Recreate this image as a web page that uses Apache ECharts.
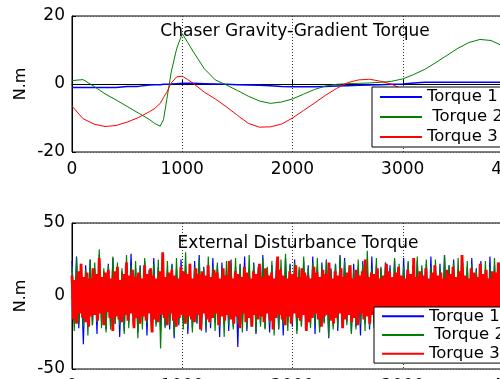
<!DOCTYPE html>
<html>
<head>
<meta charset="utf-8">
<script src="https://cdn.jsdelivr.net/npm/echarts@6/dist/echarts.min.js"></script>
<style>html,body{margin:0;padding:0;background:#fff;}#c{width:500px;height:379px;}</style>
</head>
<body>
<div id="c"></div>
<script>
// ---------- Data ----------
var seriesNames = ['Torque 1', ' Torque 2', 'Torque 3'];
var titleTop = 'Chaser Gravity-Gradient Torque';
var titleBottom = 'External Disturbance Torque';
var yName = 'N.m';

// Gravity-gradient torque (top)
var ggTime = [0,100,200,300,400,500,600,700,750,800,830,860,900,950,1000,1050,1100,1200,1300,1400,1500,1600,1700,1800,1900,2000,2100,2200,2300,2400,2500,2600,2700,2800,2900,3000,3100,3200,3300,3400,3500,3600,3700,3800,3900,4000];
var ggTorque1 = [-1.0,-1.0,-1.0,-1.0,-1.0,-0.7,-0.7,-0.3,-0.25,-0.2,-0.1,-0.05,0.0,0.1,0.2,0.2,0.2,0.1,0.0,-0.1,-0.2,-0.3,-0.4,-0.5,-0.7,-0.8,-0.8,-0.8,-0.7,-0.6,-0.5,-0.4,-0.3,-0.2,-0.1,0.0,0.3,0.5,0.5,0.5,0.5,0.5,0.5,0.5,0.5,0.2];
var ggTorque2 = [1.0,1.3,-0.7,-2.9,-4.7,-6.6,-8.5,-10.4,-11.6,-12.4,-10.5,-4.5,3.5,10.5,14.8,12.2,9.5,4.5,1.2,-0.3,-1.9,-3.6,-5.0,-5.7,-5.3,-4.4,-3.0,-1.6,-0.6,-0.1,0.1,0.2,0.3,0.5,0.8,1.5,2.8,4.3,6.3,8.4,10.5,12.2,13.1,12.8,11.3,9.0];
var ggTorque3 = [-6.5,-10.2,-11.8,-12.5,-12.2,-11.2,-9.9,-8.2,-7.2,-5.7,-4.0,-2.4,0.3,2.1,2.3,1.3,0.2,-2.4,-4.4,-6.7,-9.2,-11.6,-12.7,-12.6,-11.8,-10.0,-7.8,-5.6,-3.3,-1.3,0.4,1.2,1.4,0.8,-0.1,-1.5,-3.2,-5.0,-7.0,-8.8,-10.2,-11.2,-11.6,-11.4,-10.8,-9.8];

// External disturbance torque (bottom), sampled over 0..4100
var edSpan = 4100;
var edTorque1 = [24,-19,27,-22,18,-33,21,-17,25,-20,19,-26,28,-18,17,-23,22,-21,26,-19,
20,-28,17,-24,23,-18,29,-20,19,-25,21,-17,24,-27,18,-22,26,-19,20,-24,
27,-21,18,-23,22,-29,19,-20,25,-18,21,-26,17,-22,24,-19,28,-23,20,-25,
19,-22,26,-18,21,-28,23,-20,18,-24,25,-21,20,-35,22,-19,27,-24,19,-21,
23,-26,20,-19,28,-22,18,-25,21,-20,24,-23,19,-27,26,-18,22,-21,25,-24,
18,-20,24,-23,21,-19,27,-26,20,-22,23,-18,25,-29,19,-21,22,-24,28,-20,
26,-18,19,-25,22,-21,20,-27,24,-19,18,-23,27,-20,21,-26,19,-22,23,-18,
21,-24,25,-20,18,-22,26,-19,23,-28,20,-21,24,-25,19,-18,22,-23,27,-21,
19,-23,22,-26,28,-20,21,-19,25,-24,18,-22,23,-27,20,-19,26,-21,19,-25,
24,-20,18,-22,27,-25,21,-19,23,-21,20,-26,25,-18,22,-24,19,-23,26,-20];
var edTorque2 = [20,-24,26,-19,22,-21,18,-27,25,-20,23,-18,32,-22,19,-25,21,-23,27,-19,
23,-20,19,-26,28,-22,21,-18,24,-29,20,-23,26,-19,18,-24,22,-21,25,-36,
19,-22,24,-20,21,-27,26,-19,18,-23,30,-21,22,-25,20,-18,25,-24,19,-22,
27,-19,20,-24,23,-21,18,-28,24,-20,22,-23,26,-19,21,-25,19,-22,28,-20,
22,-25,19,-21,26,-23,20,-19,24,-27,18,-22,25,-20,29,-24,21,-18,23,-26,
20,-21,27,-24,19,-22,23,-20,26,-25,21,-19,24,-28,18,-23,22,-21,27,-19,
24,-20,21,-26,18,-23,25,-19,22,-24,31,-21,19,-22,26,-27,20,-18,23,-25,
19,-24,26,-21,22,-19,20,-28,24,-22,18,-25,27,-20,21,-23,25,-19,20,-26,
25,-22,19,-23,28,-20,21,-24,23,-18,26,-27,20,-21,24,-19,22,-25,18,-22,
21,-19,24,-27,20,-23,26,-20,22,-25,19,-21,25,-24,29,-22,20,-19,23,-21];
var edTorque3 = [14,-16,11,-19,17,-12,22,-15,13,-18,16,-21,12,-14,19,-13,15,-17,26,-12,
13,-20,16,-11,18,-15,12,-24,17,-14,20,-16,11,-18,15,-13,23,-17,14,-12,
18,-22,13,-15,16,-19,12,-14,21,-17,15,-12,19,-25,14,-16,12,-18,17,-13,
30,-15,13,-20,16,-12,18,-17,14,-21,12,-15,20,-13,17,-19,15,-14,22,-16,
12,-18,19,-13,15,-23,17,-12,14,-16,21,-18,13,-15,18,-12,16,-20,12,-14,
19,-17,14,-13,24,-16,12,-19,17,-14,15,-22,13,-12,20,-18,16,-15,12,-21,
17,-13,15,-16,22,-14,13,-18,19,-12,14,-17,16,-23,12,-15,27,-13,18,-16,
14,-20,12,-14,17,-19,15,-12,21,-15,13,-17,19,-13,16,-24,14,-18,12,-15,
20,-12,16,-16,13,-21,18,-14,15,-13,23,-17,12,-19,17,-15,14,-12,19,-22,
13,-16,16,-13,21,-18,12,-15,18,-20,14,-12,17,-16,25,-14,13,-19,16,-13,
15,-21,19,-15,12,-17,14,-13,22,-16,17,-19,13,-14,16,-12,20,-23,14,-17,
12,-15,18,-13,15,-20,26,-16,13,-12,17,-18,14,-21,19,-15,12,-14,16,-19,
21,-13,14,-17,16,-15,12,-22,18,-14,15,-16,20,-12,13,-19,17,-15,28,-13,
14,-18,12,-16,19,-14,16,-21,13,-12,22,-17,15,-15,18,-20,12,-13,17,-16,
16,-14,23,-19,13,-15,17,-12,14,-22,19,-16,12,-18,15,-13,21,-17,14,-15];

var topTicks = {min: -20, max: 20, interval: 20};
var botTicks = {min: -50, max: 50, interval: 50};
var xTicks = {min: 0, max: 4000, interval: 1000};

// ---------- Build ----------
var colors = ['#0000ff', '#008000', '#ff0000'];
var FONT = 'DejaVu Sans';

function pairs(t, v) { return v.map(function (y, i) { return [t[i], y]; }); }
function spread(v) {
  var n = v.length;
  return v.map(function (y, i) { return [i * edSpan / (n - 1), y]; });
}
function plain(v) { return String(v); }

function xAxisCfg(gi) {
  return {
    type: 'value', gridIndex: gi, min: xTicks.min, max: xTicks.max, interval: xTicks.interval,
    axisLine: {show: true, lineStyle: {color: '#000', width: 1}},
    axisTick: {show: true, inside: true, length: 4, lineStyle: {color: '#000'}},
    axisLabel: {color: '#000', fontSize: 17, fontFamily: FONT, margin: 9, formatter: plain},
    splitLine: {show: true, lineStyle: {color: '#333', type: [1, 2], width: 1}}
  };
}
function yAxisCfg(gi, tk) {
  return {
    type: 'value', gridIndex: gi, min: tk.min, max: tk.max, interval: tk.interval,
    name: yName, nameLocation: 'middle', nameGap: 43, nameRotate: 90, nameMoveOverlap: false,
    nameTextStyle: {color: '#000', fontSize: 16, fontFamily: FONT},
    axisLine: {show: true, lineStyle: {color: '#000', width: 1}},
    axisTick: {show: true, inside: true, length: 4, lineStyle: {color: '#000'}},
    axisLabel: {color: '#000', fontSize: 17, fontFamily: FONT, margin: 7, formatter: plain},
    splitLine: {show: true, lineStyle: {color: '#555', type: [1, 2], width: 1}}
  };
}
function lineSeries(name, xi, data, color, width, z) {
  return {
    type: 'line', name: name, xAxisIndex: xi, yAxisIndex: xi, data: data,
    showSymbol: false, symbol: 'none', animation: false, sampling: null,
    lineStyle: {color: color, width: width}, itemStyle: {color: color}, z: z
  };
}

var chart = echarts.init(document.getElementById('c'), null, {renderer: 'canvas'});
chart.setOption({
  animation: false,
  backgroundColor: '#fff',
  grid: [
    {left: 72, width: 441, top: 16, height: 136, outerBoundsMode: 'none', containLabel: false, show: true, borderColor: '#000', borderWidth: 1, backgroundColor: 'transparent'},
    {left: 72, width: 441, top: 223, height: 146, outerBoundsMode: 'none', containLabel: false, show: true, borderColor: '#000', borderWidth: 1, backgroundColor: 'transparent'}
  ],
  xAxis: [xAxisCfg(0), xAxisCfg(1)],
  yAxis: [yAxisCfg(0, topTicks), yAxisCfg(1, botTicks)],
  legend: [
    {
      orient: 'vertical', left: 372, top: 87, padding: [0, 80, 0, 8], itemGap: 0,
      itemWidth: 42, itemHeight: 2, icon: 'rect',
      backgroundColor: '#fff', borderColor: '#000', borderWidth: 1,
      textStyle: {color: '#000', fontSize: 16.5, fontFamily: FONT, lineHeight: 20},
      data: seriesNames, selectedMode: false, z: 10
    },
    {
      orient: 'vertical', left: 374, top: 307, padding: [0, 80, 0, 8], itemGap: 0,
      itemWidth: 42, itemHeight: 2, icon: 'rect',
      backgroundColor: '#fff', borderColor: '#000', borderWidth: 1,
      textStyle: {color: '#000', fontSize: 16.5, fontFamily: FONT, lineHeight: 18.7},
      data: seriesNames, selectedMode: false, z: 10
    }
  ],
  graphic: [
    {type: 'text', x: 295, y: 32, z: 100, style: {text: titleTop, fill: '#000', font: '17px "DejaVu Sans"', textAlign: 'center', textVerticalAlign: 'middle'}},
    {type: 'text', x: 298, y: 244, z: 100, style: {text: titleBottom, fill: '#000', font: '17px "DejaVu Sans"', textAlign: 'center', textVerticalAlign: 'middle'}}
  ],
  series: [
    lineSeries(seriesNames[0], 0, pairs(ggTime, ggTorque1), colors[0], 1.5, 3),
    lineSeries(seriesNames[1], 0, pairs(ggTime, ggTorque2), colors[1], 1, 3),
    lineSeries(seriesNames[2], 0, pairs(ggTime, ggTorque3), colors[2], 1, 3),
    lineSeries(seriesNames[0], 1, spread(edTorque1), colors[0], 1.2, 2),
    lineSeries(seriesNames[1], 1, spread(edTorque2), colors[1], 1.2, 2),
    lineSeries(seriesNames[2], 1, spread(edTorque3), colors[2], 2.8, 3)
  ]
});
</script>
</body>
</html>
